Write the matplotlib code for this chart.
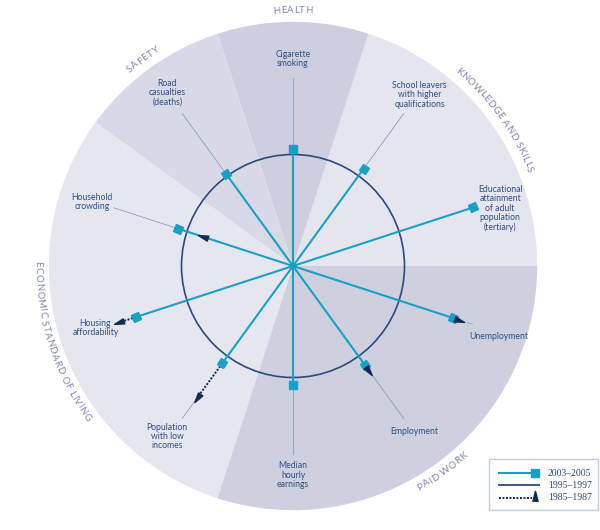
import numpy as np
import matplotlib
matplotlib.use("Agg")
import matplotlib.pyplot as plt
from matplotlib.patches import Wedge, Circle, Rectangle
from matplotlib.markers import MarkerStyle
from matplotlib.transforms import Affine2D
from matplotlib.path import Path
from matplotlib.font_manager import FontProperties, findfont, get_font
from matplotlib.ft2font import LoadFlags

# indicators, clockwise from the top
indicators = ["Cigarette\nsmoking",
              "School leavers\nwith higher\nqualifications",
              "Educational\nattainment\nof adult\npopulation\n(tertiary)",
              "Unemployment",
              "Employment",
              "Median\nhourly\nearnings",
              "Population\nwith low\nincomes",
              "Housing\naffordability",
              "Household\ncrowding",
              "Road\ncasualties\n(deaths)"]
spoke_angles = [90, 54, 18, -18, -54, -90, -126, -162, 162, 126]

# relative to 1995-1997 (= 1.0, the circle)
values_2003_2005 = [1.05, 1.08, 1.70, 1.51, 1.10, 1.07, 1.08, 1.48, 1.08, 1.02]
values_1985_1987 = [np.nan, np.nan, np.nan, 1.56, 1.15, np.nan, 1.45, 1.63, 0.84, np.nan]

domain_names = ["KNOWLEDGE AND SKILLS", "HEALTH", "SAFETY",
                "ECONOMIC STANDARD OF LIVING", "PAID WORK"]
domain_start = [0, 72, 108, 144, 252]
domain_end = [72, 108, 144, 252, 360]
domain_colors = ["#e4e5ef", "#cdcfe0", "#d8d9e6", "#e5e6f0", "#ced0e0"]

legend_labels = ["2003\u20132005", "1995\u20131997", "1985\u20131987"]

TEAL = "#1ba0c4"
NAVY = "#2c4a7c"
DARK = "#142a52"
LABEL_C = "#2f4f84"
DOMAIN_C = "#7d86ad"

W, H = 600, 530
CX, CY = 293, 266
SCALE = 111.5          # pixels per unit (the 1995-1997 circle)
OUTER = 2.19
LEADER_END = 1.69
DOMAIN_R = 2.29

# label placement (pixels from centre, angle nudge in degrees)
label_r_px = [207, 213, 215, 218, 205, 209, 212, 207, 211, 214]
label_da = [0, -0.5, -2.5, -1, 0.3, 0, -0.4, -0.6, 0.3, 0]

fig = plt.figure(figsize=(W / 100, H / 100), dpi=100)
ax = fig.add_axes([0, 0, 1, 1])
ax.set_xlim(-CX / SCALE, (W - CX) / SCALE)
ax.set_ylim(-(H - CY) / SCALE, CY / SCALE)
ax.axis("off")

# domain wedges
for a0, a1, col in zip(domain_start, domain_end, domain_colors):
    ax.add_patch(Wedge((0, 0), OUTER, a0, a1, facecolor=col, edgecolor="none", zorder=1))

ax.add_patch(Circle((0, 0), 1.0, facecolor="none", edgecolor=NAVY, lw=1.2, zorder=3))

label_font = dict(family="Lato", fontsize=6.2, color=LABEL_C, ha="center", va="center",
                  linespacing=1.05)

tri_path = Path([(0, 1.0), (-0.42, -0.6), (0.42, -0.6), (0, 1.0)],
                [Path.MOVETO, Path.LINETO, Path.LINETO, Path.CLOSEPOLY])

for i, (name, ang, v1, v0) in enumerate(zip(indicators, spoke_angles,
                                            values_2003_2005, values_1985_1987)):
    t = np.radians(ang)
    ux, uy = np.cos(t), np.sin(t)
    # 2003-2005 spoke
    ax.plot([0, v1 * ux], [0, v1 * uy], color=TEAL, lw=1.5, zorder=4, solid_capstyle="butt")
    far = v1
    if not np.isnan(v0):
        if v0 > v1:
            ax.plot([v1 * ux, v0 * ux], [v1 * uy, v0 * uy], color=DARK, lw=1.4,
                    ls=(0, (1, 0.8)), zorder=4)
        far = max(v1, v0)
        ms = MarkerStyle(tri_path, transform=Affine2D().rotate_deg(ang - 90))
        ax.plot(v0 * ux, v0 * uy, marker=ms, ms=9, color=DARK, mec=DARK, zorder=6, ls="none")
    sq = MarkerStyle("s", transform=Affine2D().rotate_deg(ang - 90))
    ax.plot(v1 * ux, v1 * uy, marker=sq, ms=5.4, color=TEAL, mec=TEAL, zorder=5, ls="none")
    # thin leader to the label
    if LEADER_END - far > 0.1:
        ax.plot([far * ux, LEADER_END * ux], [far * uy, LEADER_END * uy],
                color="#7f93b4", lw=0.5, zorder=2)
    lt = np.radians(ang + label_da[i])
    lr = label_r_px[i] / SCALE
    ax.text(lr * np.cos(lt), lr * np.sin(lt), name, zorder=7, **label_font)

ax.plot(0, 0, "o", color=TEAL, ms=3, zorder=5)

# curved domain titles: each letter placed at its pen position along the arc
fp = FontProperties(family="Lato", size=7.0)
ft = get_font(findfont(fp))
ft.set_size(fp.get_size_in_points(), 72)
TRACK = 0.45 / SCALE
advances = {}


def adv(c):
    if c not in advances:
        g = ft.load_char(ord(c), flags=LoadFlags.NO_HINTING)
        advances[c] = g.linearHoriAdvance / 65536 * 100 / 72 / SCALE
    return advances[c] + TRACK


def arc_text(text, mid_deg, r, top):
    widths = [adv(c) for c in text]
    total = sum(widths) - TRACK
    pos = -total / 2
    for c, w in zip(text, widths):
        s = pos
        pos += w
        if c == " ":
            continue
        if top:
            a = mid_deg - np.degrees(s / r)
            rot = a - 90
        else:
            a = mid_deg + np.degrees(s / r)
            rot = a + 90
        ar = np.radians(a)
        ax.text(r * np.cos(ar), r * np.sin(ar), c, rotation=rot, rotation_mode="anchor",
                ha="left", va="center", fontproperties=fp, color=DOMAIN_C, zorder=7)


for name, a0, a1 in zip(domain_names, domain_start, domain_end):
    mid = (a0 + a1) / 2
    arc_text(name, mid, DOMAIN_R, top=(0 < mid < 180))

# legend (drawn by hand in pixel positions)
def px(x, y):
    return x / W, 1 - y / H

tr = ax.transAxes
x0, y0 = px(489, 510)
x1, y1 = px(598, 459)
ax.add_patch(Rectangle((x0, y0), x1 - x0, y1 - y0, transform=tr, facecolor="white",
                       edgecolor="#c5cbe0", lw=1.0, zorder=8))
rows = [473, 485, 498]
for i, (lab, yy) in enumerate(zip(legend_labels, rows)):
    if i == 0:
        ax.plot([px(499, yy)[0], px(534, yy)[0]], [px(0, yy)[1]] * 2, transform=tr,
                color=TEAL, lw=1.5, zorder=9)
        ax.plot(px(535, yy)[0], px(0, yy)[1], "s", ms=5.4, color=TEAL, transform=tr, zorder=9)
    elif i == 1:
        ax.plot([px(499, yy)[0], px(539, yy)[0]], [px(0, yy)[1]] * 2, transform=tr,
                color=NAVY, lw=1.3, zorder=9)
    else:
        ax.plot([px(499, yy)[0], px(532, yy)[0]], [px(0, yy)[1]] * 2, transform=tr,
                color=DARK, lw=1.4, ls=(0, (1, 0.8)), zorder=9)
        ax.plot(px(535, yy - 1)[0], px(0, yy - 1)[1], marker=MarkerStyle(tri_path), ms=9,
                color=DARK, transform=tr, zorder=9)
    ax.text(px(548, yy)[0], px(0, yy)[1], lab, transform=tr, ha="left", va="center",
            family="Liberation Serif", fontsize=7.0, color=NAVY, zorder=9)

fig.savefig("out.png", dpi=100, facecolor="white")
